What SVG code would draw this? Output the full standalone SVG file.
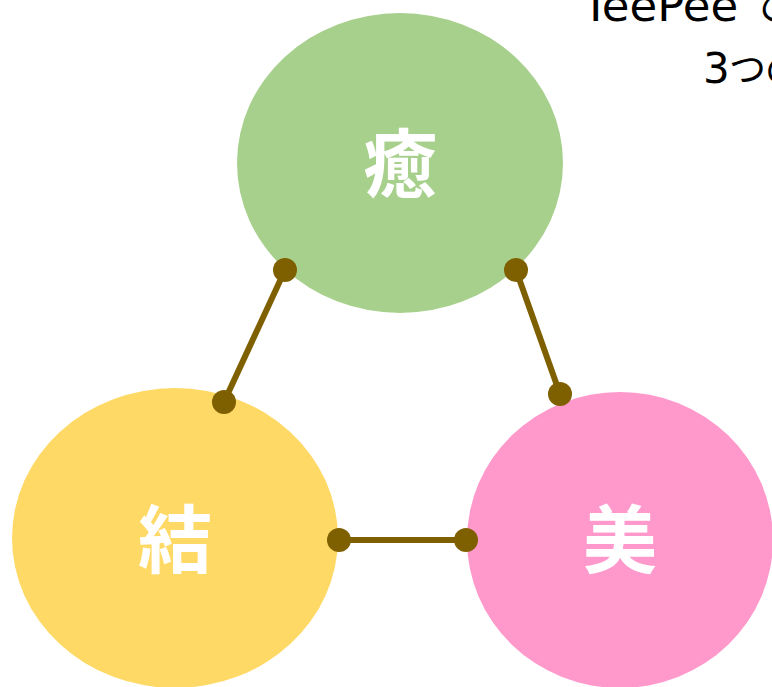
<svg xmlns="http://www.w3.org/2000/svg" width="772" height="687" viewBox="0 0 772 687">
<style>
.lbl{font-family:"Noto Sans CJK JP","Noto Sans",sans-serif;font-weight:bold;font-size:74px;fill:#ffffff;text-anchor:middle;dominant-baseline:central}
.ttl{font-family:"DejaVu Sans","Noto Sans CJK JP",sans-serif;font-size:42px;fill:#000000}
.kana{font-family:"Noto Sans CJK JP",sans-serif;font-size:37px}
.con{stroke:#7f6000;stroke-width:6;fill:none}
.dot{fill:#7f6000}
</style>
<rect width="772" height="687" fill="#ffffff"/>
<g id="title">
<text class="ttl" y="21"><tspan x="582" font-size="45">TeePee</tspan><tspan class="kana" x="749">で</tspan></text>
<text class="ttl" y="83"><tspan x="703">3</tspan><tspan class="kana" x="729">つ</tspan><tspan class="kana" x="765">の</tspan></text>
</g>
<g id="node-yu">
<ellipse cx="400" cy="163" rx="163" ry="150" fill="#a8d08d"/>
<text class="lbl" x="400" y="158">癒</text>
</g>
<g id="node-yui">
<ellipse cx="175" cy="538" rx="163" ry="150" fill="#ffd966"/>
<text class="lbl" x="175" y="534">結</text>
</g>
<g id="node-bi">
<ellipse cx="620" cy="540" rx="153" ry="148" fill="#ff99cc"/>
<text class="lbl" x="620" y="534">美</text>
</g>
<g id="connectors">
<line class="con" x1="285" y1="270" x2="224" y2="402"/>
<circle class="dot" cx="285" cy="270" r="12"/>
<circle class="dot" cx="224" cy="402" r="12"/>
<line class="con" x1="516" y1="270" x2="560" y2="394"/>
<circle class="dot" cx="516" cy="270" r="12"/>
<circle class="dot" cx="560" cy="394" r="12"/>
<line class="con" x1="339" y1="540" x2="466" y2="540"/>
<circle class="dot" cx="339" cy="540" r="12"/>
<circle class="dot" cx="466" cy="540" r="12"/>
</g>
</svg>
